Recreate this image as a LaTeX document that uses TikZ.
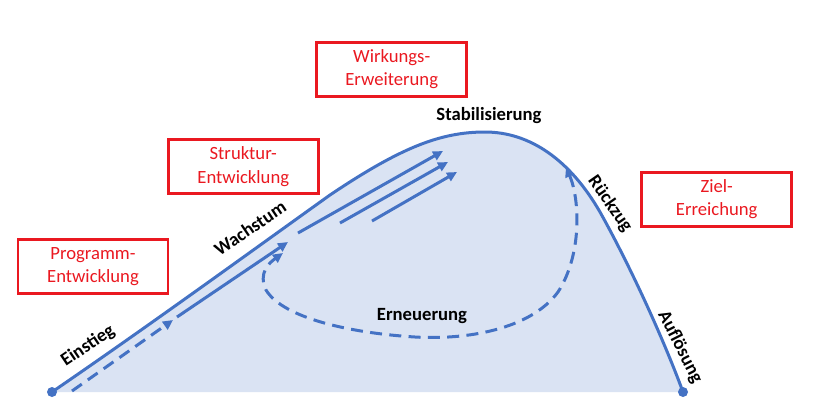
\documentclass[tikz,border=0pt]{standalone}
\usepackage{fontspec}
\setmainfont{Carlito}
\usetikzlibrary{arrows.meta}
\definecolor{lineblue}{HTML}{4472C4}
\definecolor{fillblue}{HTML}{DAE3F3}
\definecolor{boxred}{HTML}{EA1820}
\begin{document}
\begin{tikzpicture}[x=0.75pt,y=-0.75pt,
  curve/.style={draw=lineblue,line width=2.25pt},
  tip/.style={-{Triangle[length=7.5pt,width=7pt]}},
  bothtips/.style={{Triangle[length=7.5pt,width=7pt]}-{Triangle[length=7.5pt,width=7pt]}},
  dashline/.style={dash pattern=on 9pt off 5.5pt},
  stage/.style={font=\fontsize{14}{16}\selectfont\bfseries, text=black, inner sep=0pt},
  redbox/.style={draw=boxred, line width=2pt, text=boxred, minimum width=112.5pt, minimum height=40.5pt, align=center, font=\fontsize{14}{17.5}\selectfont, inner sep=0pt},
]
\useasboundingbox (0,0) rectangle (818,401);
\coordinate (start) at (52,392);
\coordinate (c1) at (330,195);
\coordinate (peak) at (485,132);
\coordinate (c3) at (600,212);
\coordinate (end) at (683,392);
% fill
\fill[fillblue] (start) .. controls (150,325) and (260,245) .. (c1) .. controls (400,148) and (440,132) .. (peak) .. controls (530,132) and (570,160) .. (c3) .. controls (628,262) and (662,335) .. (end) -- cycle;
% inner arrows
\coordinate (d1s) at (72,391);
\coordinate (d1e) at (173,320);
\coordinate (s1s) at (177,317);
\coordinate (s1e) at (288,242);
\coordinate (aAs) at (298,233);
\coordinate (aAe) at (443,151);
\coordinate (aBs) at (340,223);
\coordinate (aBe) at (448,162);
\coordinate (aCs) at (372,221);
\coordinate (aCe) at (457,172);
\draw[curve,dashline,tip] (d1s) -- (d1e);
\draw[curve,tip] (s1s) -- (s1e);
\draw[curve,tip] (aAs) -- (aAe);
\draw[curve,tip] (aBs) -- (aBe);
\draw[curve,tip] (aCs) -- (aCe);
% renewal loop
\coordinate (lr) at (566,167);
\coordinate (ll) at (283,253);
\draw[curve,dashline,bothtips] (lr) .. controls (580,200) and (582,255) .. (558,292) .. controls (530,330) and (465,340) .. (415,337) .. controls (350,333) and (283,318) .. (266,290) .. controls (258,273) and (269,263) .. (ll);
% main curve
\draw[curve] (start) .. controls (150,325) and (260,245) .. (c1) .. controls (400,148) and (440,132) .. (peak) .. controls (530,132) and (570,160) .. (c3) .. controls (628,262) and (662,335) .. (end);
\fill[lineblue] (start) circle (3.75pt);
\fill[lineblue] (end) circle (3.75pt);
% stage labels
\node[stage, rotate=34] (einstieg) at (88,346) {Einstieg};
\node[stage, rotate=34] (wachstum) at (250,228) {Wachstum};
\node[stage] (stab) at (489,116) {Stabilisierung};
\node[stage, rotate=-55] (rueck) at (610,204) {Rückzug};
\node[stage, rotate=-63] (aufl) at (680,347) {Auflösung};
\node[stage] (ern) at (422,316) {Erneuerung};
% red boxes
\node[redbox] (prog) at (93,266.5) {Programm-\\Entwicklung};
\node[redbox] (strukt) at (243.3,166.7) {Struktur-\\Entwicklung};
\node[redbox] (wirk) at (391.7,69.2) {Wirkungs-\\Erweiterung};
\node[redbox] (ziel) at (716.7,199.2) {Ziel-\\Erreichung};
\end{tikzpicture}
\end{document}
